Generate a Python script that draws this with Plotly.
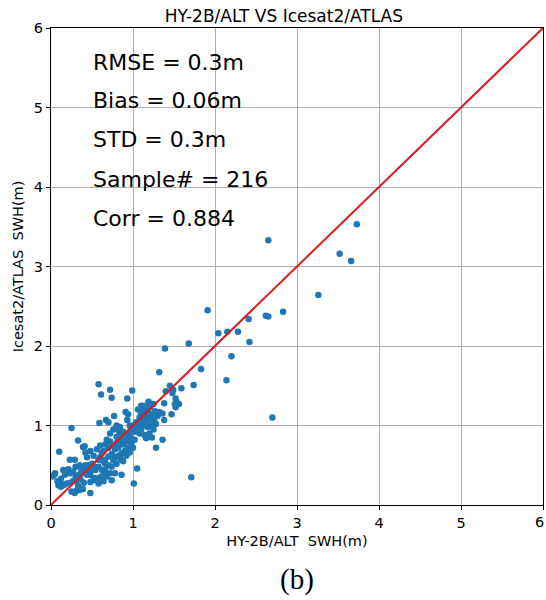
import plotly.graph_objects as go

# HY-2B/ALT SWH (x) vs Icesat2/ATLAS SWH (y), metres
hy2b_swh = [
    3.73, 2.65, 3.52, 3.66, 3.26, 1.91, 2.83, 2.62, 2.65, 2.41, 2.28, 2.15, 2.04, 2.42, 1.68, 1.39,
    2.20, 1.83, 1.32, 2.14, 1.74, 1.45, 1.40, 1.49, 1.59, 1.48, 1.52, 1.53, 1.56, 1.52, 1.51, 1.47,
    1.38, 1.19, 1.32, 1.36, 1.38, 2.70, 1.36, 1.28, 1.71, 1.01, 1.05,
    0.58, 0.72, 0.61, 0.74, 0.99, 0.93, 0.91, 0.94, 0.77, 0.67, 0.70, 0.59, 0.93, 0.83, 0.80, 0.86,
    0.25, 0.33, 0.41, 0.42, 0.39, 0.10, 0.23, 0.29, 0.05, 0.02, 0.04,
    1.04, 1.08, 1.10, 1.14, 1.16, 1.18, 1.20, 1.22, 1.24, 1.26, 1.15, 1.12, 1.18, 1.22, 1.25, 1.10,
    1.05, 1.28, 1.20, 1.14, 1.08, 1.02, 1.16, 1.23, 1.00, 1.06, 1.13, 1.17, 1.09, 1.30, 1.27, 1.21,
    1.25, 1.15, 1.12,
    0.70, 0.72, 0.75, 0.78, 0.80, 0.82, 0.85, 0.88, 0.90, 0.92, 0.95, 0.97, 0.98, 0.94, 0.90, 0.86,
    0.82, 0.78, 0.74, 0.76, 0.80, 0.85, 0.88, 0.92, 0.96, 1.00, 1.02, 0.98, 0.68, 0.66, 0.72, 0.76,
    0.84, 0.88, 0.80,
    0.42, 0.46, 0.50, 0.54, 0.58, 0.58, 0.62, 0.66, 0.70, 0.54, 0.50, 0.62, 0.66, 0.72, 0.78, 0.74,
    0.86, 0.54, 0.58, 0.64, 0.68, 0.48, 0.52, 0.56, 0.60, 0.64, 0.68, 0.48, 0.44, 0.52, 0.56, 0.60,
    0.64, 0.48, 0.40, 0.44, 0.70, 0.74, 0.66, 0.62,
    0.15, 0.19, 0.17, 0.27, 0.23, 0.37, 0.39, 0.44, 0.11, 0.15, 0.09, 0.19, 0.23, 0.27, 0.31, 0.36,
    0.25, 0.31, 0.35, 0.39, 0.29, 0.48, 0.12, 0.17, 0.33, 0.40, 0.21, 0.30, 0.34, 0.12, 0.08, 0.35,
    0.30, 1.10, 0.96, 0.60,
]
icesat2_swh = [
    3.53, 3.33, 3.16, 3.07, 2.64, 2.45, 2.43, 2.38, 2.37, 2.34, 2.18, 2.18, 2.16, 2.05, 2.03, 1.97,
    1.87, 1.71, 1.67, 1.57, 1.51, 1.50, 1.43, 1.45, 1.47, 1.41, 1.34, 1.30, 1.27, 1.23, 1.27, 1.14,
    1.28, 1.30, 1.17, 1.15, 1.07, 1.10, 0.82, 0.72, 0.35, 0.27, 0.46,
    1.52, 1.45, 1.39, 1.35, 1.44, 1.34, 1.17, 1.14, 1.12, 1.07, 1.04, 1.03, 1.07, 0.93, 0.86, 0.86,
    0.97, 0.81, 0.74, 0.66, 0.73, 0.67, 0.57, 0.57, 0.40, 0.36, 0.38,
    1.04, 1.10, 1.15, 1.17, 1.12, 1.20, 1.08, 1.14, 1.10, 1.05, 1.05, 1.00, 0.98, 1.00, 0.95, 0.95,
    0.98, 1.02, 0.90, 0.88, 0.90, 0.92, 0.84, 0.85, 1.00, 1.20, 1.08, 1.03, 1.04, 1.12, 1.18, 1.23,
    1.27, 1.25, 1.22,
    0.72, 0.80, 0.75, 0.70, 0.78, 0.72, 0.80, 0.76, 0.85, 0.80, 0.90, 0.85, 0.78, 0.72, 0.68, 0.65,
    0.62, 0.60, 0.64, 0.56, 0.52, 0.58, 0.55, 0.62, 0.66, 0.72, 0.82, 0.95, 0.82, 0.76, 0.90, 0.95,
    0.98, 0.92, 1.00,
    0.50, 0.50, 0.52, 0.48, 0.48, 0.57, 0.65, 0.57, 0.61, 0.44, 0.44, 0.44, 0.44, 0.40, 0.40, 0.31,
    0.38, 0.34, 0.27, 0.30, 0.36, 0.29, 0.31, 0.33, 0.35, 0.38, 0.40, 0.38, 0.60, 0.62, 0.70, 0.75,
    0.68, 0.68, 0.45, 0.42, 0.50, 0.48, 0.52, 0.56,
    0.44, 0.42, 0.38, 0.42, 0.40, 0.44, 0.40, 0.38, 0.29, 0.25, 0.25, 0.27, 0.28, 0.30, 0.31, 0.32,
    0.17, 0.18, 0.19, 0.20, 0.15, 0.15, 0.23, 0.26, 0.24, 0.28, 0.45, 0.36, 0.38, 0.33, 0.30, 0.50,
    0.48, 1.25, 1.00, 0.60,
]

ref_line = [0, 6]
axis_ticks = [0, 1, 2, 3, 4, 5, 6]
stats_text = ["RMSE = 0.3m", "Bias = 0.06m", "STD = 0.3m", "Sample# = 216", "Corr = 0.884"]
stats_y = [5.57, 5.09, 4.60, 4.09, 3.61]

FONT = "DejaVu Sans"
TICK_SIZE = 14.5

fig = go.Figure()
fig.add_trace(go.Scatter(
    x=hy2b_swh, y=icesat2_swh, mode="markers",
    marker=dict(color="#1f77b4", size=6.5, line=dict(width=0)),
    showlegend=False, hoverinfo="x+y",
))
fig.add_trace(go.Scatter(
    x=ref_line, y=ref_line, mode="lines",
    line=dict(color="#d42020", width=2),
    showlegend=False,
))

for txt, yy in zip(stats_text, stats_y):
    fig.add_annotation(
        x=0.49, y=yy, xref="x", yref="y", text=txt, showarrow=False,
        xanchor="left", yanchor="middle",
        font=dict(family=FONT, size=22, color="black"),
    )

# last x tick label sits at the page edge; keep it fully visible
fig.add_annotation(
    x=axis_ticks[-1], y=-0.035, xref="x", yref="paper", text=str(axis_ticks[-1]),
    showarrow=False, xanchor="right", yanchor="middle", xshift=3,
    font=dict(family=FONT, size=TICK_SIZE, color="black"),
)

fig.add_annotation(
    x=0.5, y=-0.157, xref="paper", yref="paper", text="(b)", showarrow=False,
    xanchor="center", yanchor="middle",
    font=dict(family="Liberation Serif", size=29, color="black"),
)

axis_common = dict(
    range=[0, 6], tickvals=axis_ticks, ticktext=[str(t) for t in axis_ticks],
    showgrid=True, gridcolor="#b0b0b0", gridwidth=1,
    showline=True, linecolor="black", linewidth=1.2, mirror=True,
    ticks="outside", ticklen=4, tickcolor="black",
    tickfont=dict(family=FONT, size=TICK_SIZE, color="black"),
    zeroline=False,
)

fig.update_layout(
    width=546, height=600,
    margin=dict(l=51, r=3, t=28, b=95),
    paper_bgcolor="white", plot_bgcolor="white",
    title=dict(
        text="HY-2B/ALT VS Icesat2/ATLAS", x=0.52, xanchor="center",
        y=0.973, yanchor="middle",
        font=dict(family=FONT, size=17, color="black"),
    ),
    xaxis=dict(**axis_common, title=dict(text="HY-2B/ALT\u00a0\u00a0SWH(m)",
               font=dict(family=FONT, size=14.5, color="black"), standoff=6)),
    yaxis=dict(**axis_common, title=dict(text="Icesat2/ATLAS\u00a0\u00a0SWH(m)",
               font=dict(family=FONT, size=14.5, color="black"), standoff=6)),
)

fig.write_html("out.html")
